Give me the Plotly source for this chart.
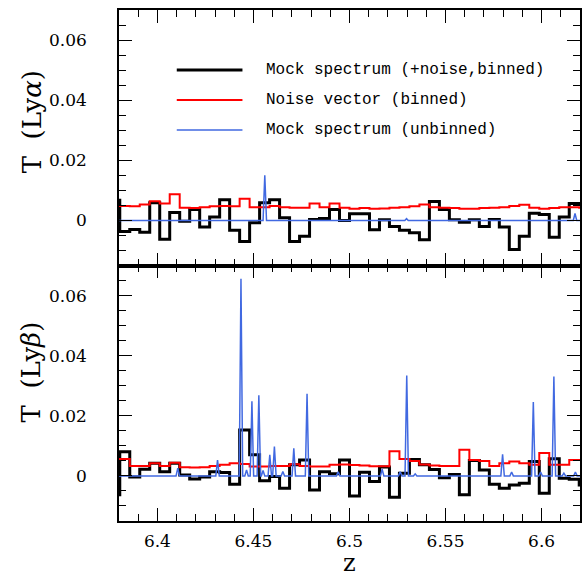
import plotly.graph_objects as go
from plotly.subplots import make_subplots

# ---------------- data ----------------
Z_RANGE = [6.38, 6.62]

# bin edges of the binned spectra (49 edges -> 48 bins)
bin_edges = [6.3752, 6.3804, 6.3856, 6.3908, 6.3960, 6.4012, 6.4064, 6.4116,
             6.4168, 6.4220, 6.4272, 6.4324, 6.4376, 6.4428, 6.4480, 6.4532,
             6.4584, 6.4636, 6.4688, 6.4740, 6.4792, 6.4844, 6.4896, 6.4948,
             6.5000, 6.5052, 6.5104, 6.5156, 6.5208, 6.5260, 6.5312, 6.5364,
             6.5416, 6.5468, 6.5520, 6.5572, 6.5624, 6.5676, 6.5728, 6.5780,
             6.5832, 6.5884, 6.5936, 6.5988, 6.6040, 6.6092, 6.6144, 6.6196,
             6.6248]

# Ly-alpha panel
lya_mock_binned = [0.0067, -0.0037, -0.0030, -0.0039, 0.0059, -0.0063, 0.0026, -0.0003,
                   0.0036, -0.0022, 0.0011, 0.0069, -0.0033, -0.0070, -0.0008, 0.0059,
                   0.0069, 0.0009, -0.0070, -0.0053, 0.0003, 0.0006, 0.0036, 0.0000,
                   0.0022, 0.0022, -0.0031, 0.0002, -0.0020, -0.0033, -0.0041, -0.0064,
                   0.0063, 0.0036, 0.0002, -0.0006, 0.0002, -0.0020, 0.0003, -0.0022,
                   -0.0097, -0.0053, 0.0024, 0.0020, -0.0056, 0.0011, 0.0056, 0.0056]
lya_noise_binned = [0.0048, 0.0048, 0.0047, 0.0053, 0.0064, 0.0056, 0.0087, 0.0042,
                    0.0041, 0.0044, 0.0047, 0.0048, 0.0047, 0.0072, 0.0044, 0.0044,
                    0.0048, 0.0044, 0.0042, 0.0042, 0.0056, 0.0044, 0.0056, 0.0042,
                    0.0039, 0.0041, 0.0039, 0.0040, 0.0042, 0.0044, 0.0047, 0.0053,
                    0.0044, 0.0042, 0.0041, 0.0039, 0.0039, 0.0041, 0.0042, 0.0044,
                    0.0048, 0.0052, 0.0042, 0.0039, 0.0041, 0.0044, 0.0044, 0.0042]
lya_line_z = [6.4559, 6.5297, 6.6174]
lya_line_T = [0.0150, 0.0006, 0.0023]

# Ly-beta panel
lyb_mock_binned = [-0.0063, 0.0080, -0.0004, 0.0022, 0.0042, 0.0014, 0.0042, 0.0003,
                   -0.0010, -0.0004, 0.0014, 0.0011, -0.0028, 0.0153, 0.0070, -0.0016,
                   -0.0002, -0.0041, 0.0037, 0.0053, -0.0047, 0.0014, 0.0007, 0.0053,
                   -0.0067, 0.0012, -0.0019, 0.0030, -0.0071, 0.0009, 0.0055, 0.0037,
                   0.0021, -0.0006, 0.0005, -0.0063, 0.0051, 0.0020, -0.0028, -0.0041,
                   -0.0030, -0.0024, 0.0048, -0.0058, 0.0057, -0.0008, -0.0011, -0.0030]
lyb_noise_binned = [0.0056, 0.0056, 0.0033, 0.0033, 0.0042, 0.0033, 0.0044, 0.0029,
                    0.0028, 0.0029, 0.0033, 0.0037, 0.0042, 0.0040, 0.0031, 0.0031,
                    0.0033, 0.0033, 0.0039, 0.0033, 0.0031, 0.0031, 0.0037, 0.0038,
                    0.0036, 0.0035, 0.0032, 0.0032, 0.0082, 0.0056, 0.0050, 0.0038,
                    0.0035, 0.0033, 0.0033, 0.0087, 0.0053, 0.0050, 0.0033, 0.0042,
                    0.0048, 0.0042, 0.0037, 0.0076, 0.0037, 0.0037, 0.0053, 0.0053]
lyb_line_z = [6.4106, 6.4313, 6.4435, 6.4464, 6.4492, 6.4528, 6.4550, 6.4585,
              6.4609, 6.4653, 6.4710, 6.4779, 6.4941, 6.5170, 6.5264, 6.5298,
              6.5342, 6.5797, 6.5844, 6.5957, 6.5995, 6.6064, 6.6116, 6.6176]
lyb_line_T = [0.0026, 0.0053, 0.0656, 0.0020, 0.0248, 0.0268, 0.0018, 0.0070,
              0.0098, 0.0015, 0.0092, 0.0273, 0.0014, 0.0022, 0.0014, 0.0334,
              0.0007, 0.0072, 0.0013, 0.0246, 0.0013, 0.0331, 0.0009, 0.0013]

legend_labels = ["Mock spectrum (+noise,binned)", "Noise vector (binned)",
                 "Mock spectrum (unbinned)"]
y_tickvals = [0, 0.02, 0.04, 0.06]
y_ticktext = ["0", "0.02", "0.04", "0.06"]
x_tickvals = [6.4, 6.45, 6.5, 6.55, 6.6]
x_ticktext = ["6.4", "6.45", "6.5", "6.55", "6.6"]

# ---------------- styles ----------------
BLACK = "#000000"
RED = "#ff0000"
BLUE = "#4169e1"
SERIF = "DejaVu Serif"
MONO = "Liberation Mono"
HALF_WIDTH = 0.0009


def step_xy(edges, vals):
    return list(edges), list(vals) + [vals[-1]]


def spike_xy(centers, heights):
    xs, ys = [Z_RANGE[0]], [0.0]
    for c, h in sorted(zip(centers, heights)):
        xs += [c - HALF_WIDTH, c, c + HALF_WIDTH]
        ys += [0.0, h, 0.0]
    xs.append(Z_RANGE[1])
    ys.append(0.0)
    return xs, ys


fig = make_subplots(rows=2, cols=1, shared_xaxes=True, vertical_spacing=0)

panels = [(1, lya_mock_binned, lya_noise_binned, lya_line_z, lya_line_T),
          (2, lyb_mock_binned, lyb_noise_binned, lyb_line_z, lyb_line_T)]
for row, mock, noise, lz, lt in panels:
    x, y = step_xy(bin_edges, mock)
    fig.add_trace(go.Scatter(x=x, y=y, mode="lines", line_shape="hv",
                             line=dict(color=BLACK, width=3), showlegend=False),
                  row=row, col=1)
    x, y = step_xy(bin_edges, noise)
    fig.add_trace(go.Scatter(x=x, y=y, mode="lines", line_shape="hv",
                             line=dict(color=RED, width=2), showlegend=False),
                  row=row, col=1)
    x, y = spike_xy(lz, lt)
    fig.add_trace(go.Scatter(x=x, y=y, mode="lines",
                             line=dict(color=BLUE, width=1.5), showlegend=False),
                  row=row, col=1)

axis_common = dict(showline=True, linecolor=BLACK, linewidth=1.5, mirror="allticks",
                   ticks="inside", tickcolor=BLACK, tickwidth=1.3, ticklen=13,
                   showgrid=False, zeroline=False,
                   tickfont=dict(family=SERIF, size=17, color=BLACK))

for r in (1, 2):
    fig.update_xaxes(range=Z_RANGE, tickvals=x_tickvals, ticktext=x_ticktext,
                     minor=dict(ticks="inside", ticklen=7, tickwidth=1.2,
                                tickcolor=BLACK, dtick=0.01, tick0=6.4, showgrid=False),
                     ticklabelstandoff=4, showticklabels=(r == 2),
                     row=r, col=1, **axis_common)
    fig.update_yaxes(range=[-0.015, 0.07], tickvals=y_tickvals, ticktext=y_ticktext,
                     minor=dict(ticks="inside", ticklen=7, tickwidth=1.2,
                                tickcolor=BLACK, dtick=0.005, tick0=0, showgrid=False),
                     ticklabelstandoff=27, row=r, col=1, **axis_common)

# axis titles
fig.add_annotation(text="T  (Ly<i>α</i>)", textangle=-90, x=-0.19, y=0.781,
                   xref="paper", yref="paper", xanchor="center", yanchor="middle",
                   showarrow=False, font=dict(family=SERIF, size=26, color=BLACK))
fig.add_annotation(text="T  (Ly<i>β</i>)", textangle=-90, x=-0.19, y=0.2916,
                   xref="paper", yref="paper", xanchor="center", yanchor="middle",
                   showarrow=False, font=dict(family=SERIF, size=26, color=BLACK))
fig.add_annotation(text="z", x=0.5, y=-0.082, xref="paper", yref="paper",
                   xanchor="center", yanchor="middle",
                   showarrow=False, font=dict(family=SERIF, size=24, color=BLACK))

# legend drawn by hand
leg_y = [0.8826, 0.8239, 0.7652]
leg_col = [BLACK, RED, BLUE]
leg_w = [3, 2, 1.5]
for lbl, yy, c, w in zip(legend_labels, leg_y, leg_col, leg_w):
    fig.add_shape(type="line", xref="paper", yref="paper", x0=0.1253, x1=0.2678,
                  y0=yy, y1=yy, line=dict(color=c, width=w))
    fig.add_annotation(text=lbl, x=0.3153, y=yy, xref="paper", yref="paper",
                       xanchor="left", yanchor="middle", showarrow=False,
                       font=dict(family=MONO, size=16, color=BLACK))

fig.update_layout(width=587, height=578, margin=dict(l=119, r=5, t=10, b=57),
                  paper_bgcolor="white", plot_bgcolor="white")

fig.write_html("out.html")
